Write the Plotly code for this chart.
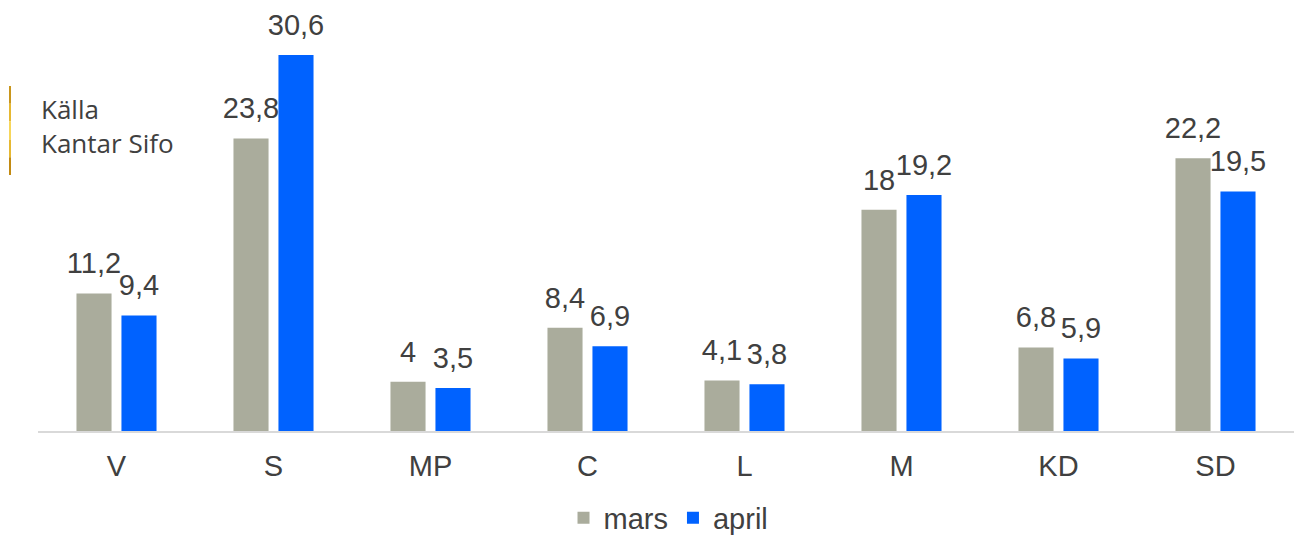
import plotly.graph_objects as go

categories = ["V", "S", "MP", "C", "L", "M", "KD", "SD"]
mars = [11.2, 23.8, 4, 8.4, 4.1, 18, 6.8, 22.2]
april = [9.4, 30.6, 3.5, 6.9, 3.8, 19.2, 5.9, 19.5]
series_names = ["mars", "april"]
colors = ["#AAAC9C", "#0062FF"]

FONT = "Liberation Sans, Arial"
TXT = "#404040"


def fmt(v):
    return f"{v:g}".replace(".", ",")


fig = go.Figure()
for name, vals, col in zip(series_names, [mars, april], colors):
    fig.add_trace(go.Bar(
        x=categories, y=vals, name=name, marker=dict(color=col, line=dict(width=0)),
        offsetgroup=name, hoverinfo="x+y",
    ))
for name, vals in zip(series_names, [mars, april]):
    fig.add_trace(go.Scatter(
        x=categories, y=vals, mode="markers+text", text=[fmt(v) for v in vals],
        textposition="top center", marker=dict(size=19, opacity=0),
        textfont=dict(family=FONT, size=29, color=TXT),
        showlegend=False, hoverinfo="skip", cliponaxis=False,
        offsetgroup=name,
    ))

W, H = 1294, 537
plot_l, plot_r, plot_b = 38, 1294, 431
fig.update_layout(
    width=W, height=H,
    margin=dict(l=plot_l, r=W - plot_r, t=0, b=H - plot_b, autoexpand=False),
    paper_bgcolor="white", plot_bgcolor="white",
    barmode="group", bargap=0.427, bargroupgap=0.22,
    scattermode="group", scattergap=0.427,
    showlegend=True,
    legend=dict(orientation="h", x=0.502, xanchor="center",
                yref="container", y=(H - 518) / H, yanchor="middle",
                font=dict(family=FONT, size=29, color=TXT),
                itemwidth=30, traceorder="normal", tracegroupgap=0),
    xaxis=dict(showline=True, linecolor="#D9D9D9", linewidth=2, ticks="",
               tickfont=dict(family=FONT, size=29, color=TXT),
               ticklabelstandoff=8, showgrid=False),
    yaxis=dict(range=[0, plot_b / (376 / 30.6)], visible=False, showgrid=False, zeroline=False),
)

pw = plot_r - plot_l
fig.add_annotation(text="Källa<br>Kantar Sifo", xref="paper", yref="paper",
                   x=(39 - plot_l) / pw, y=1 - 89 / plot_b, xanchor="left", yanchor="top",
                   align="left", showarrow=False,
                   font=dict(family="Open Sans", size=26, color=TXT))
# gold accent bar (light in the middle, darker ends)
gold = ["#C9961C", "#E6B832", "#F7D65A", "#E6B832", "#C28A12"]
y_top, y_bot = 86, 175
seg = (y_bot - y_top) / len(gold)
for i, c in enumerate(gold):
    fig.add_shape(type="line", xref="paper", yref="paper",
                  x0=(10 - plot_l) / pw, x1=(10 - plot_l) / pw,
                  y0=1 - (y_top + i * seg) / plot_b, y1=1 - (y_top + (i + 1) * seg) / plot_b,
                  line=dict(color=c, width=2))

fig.write_html("out.html", config={"displayModeBar": False},
               post_script="document.body.style.margin='0';")
